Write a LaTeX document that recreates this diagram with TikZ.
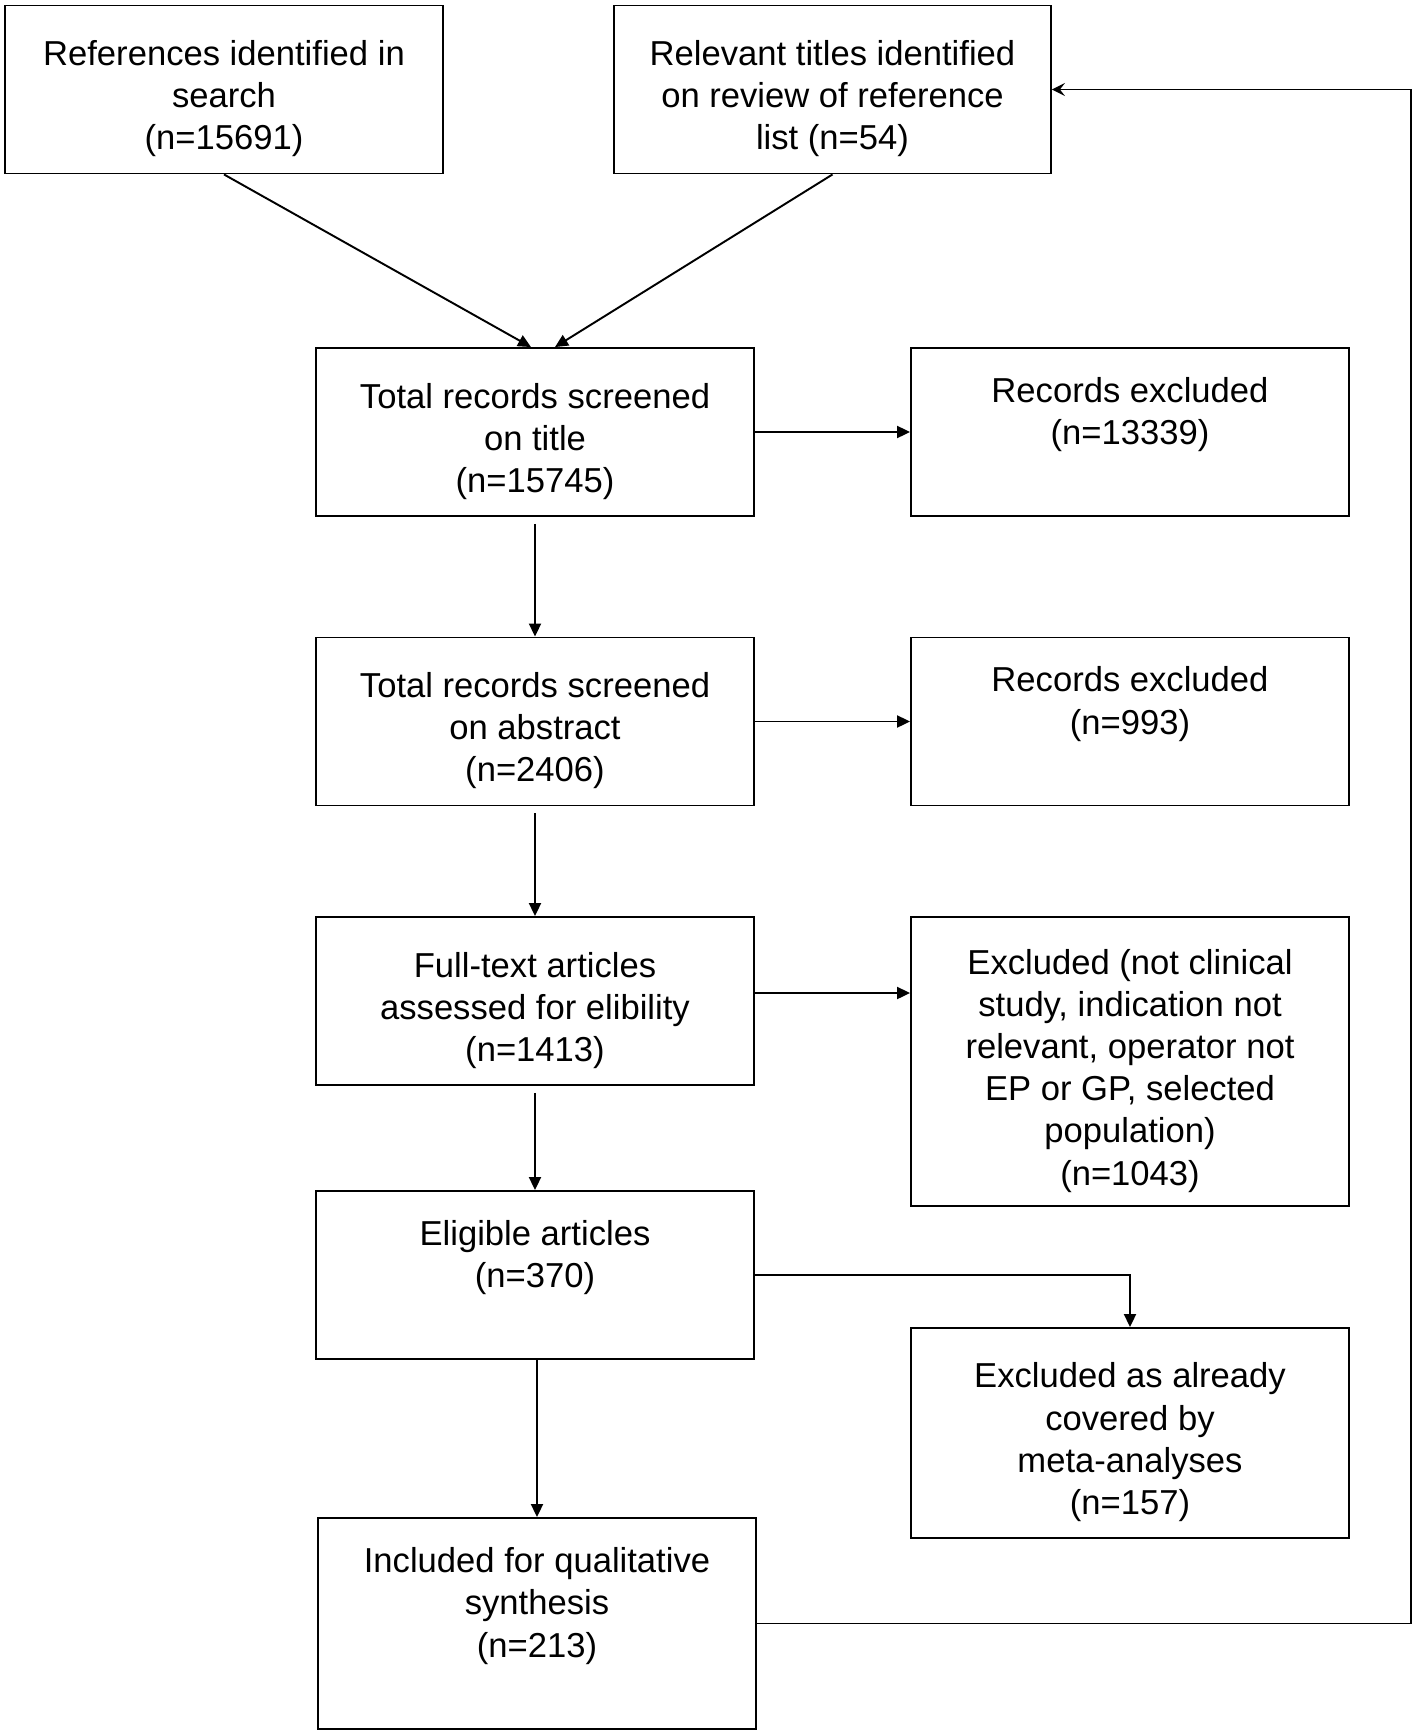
\documentclass[tikz,border=0pt]{standalone}
\usepackage{fontspec}
\setmainfont{Liberation Sans}
\usetikzlibrary{arrows.meta}
\newcommand{\lowstrut}{\rule{0pt}{0.87cm}}

\begin{document}
\begin{tikzpicture}[x=0.02cm, y=-0.02cm,
		box/.style={draw, line width=1.1pt, inner sep=0pt, align=center, minimum width=8.76cm, minimum height=3.36cm, font=\fontsize{19.7}{24}\selectfont},
		flow/.style={line width=1.1pt, -{Triangle[length=0.26cm, width=0.24cm]}},
		back/.style={line width=1.1pt, -{Stealth[length=0.26cm, width=0.26cm, inset=0.1cm]}}]
			%%%%% START %%%%%
			
			\useasboundingbox (0, 0) rectangle (1418, 1734);
			
			\node[box, minimum width=8.78cm] (refs) at (224, 89.5) {\lowstrut References identified in\\search\\(n=15691)};
			\node[box, minimum width=8.74cm] (rel) at (832.5, 89.5) {\lowstrut Relevant titles identified\\on review of reference\\list (n=54)};
			
			\node[box] (scrTitle) at (535, 432) {\lowstrut Total records screened\\on title\\(n=15745)};
			\node[box] (exTitle) at (1130, 432) {Records excluded\\(n=13339)\\~};
			
			\node[box] (scrAbs) at (535, 721.5) {\lowstrut Total records screened\\on abstract\\(n=2406)};
			\node[box] (exAbs) at (1130, 721.5) {Records excluded\\(n=993)\\~};
			
			\node[box] (fullText) at (535, 1001) {\lowstrut Full-text articles\\assessed for elibility\\(n=1413)};
			\node[box, minimum height=5.78cm] (exFull) at (1130, 1061.5) {\lowstrut Excluded (not clinical\\study, indication not\\relevant, operator not\\EP or GP, selected\\population)\\(n=1043)};
			
			\node[box] (elig) at (535, 1275) {Eligible articles\\(n=370)\\~};
			\node[box, minimum height=4.2cm] (exMeta) at (1130, 1433) {\lowstrut Excluded as already\\covered by\\meta-analyses\\(n=157)};
			
			\node[box, minimum height=4.22cm] (incl) at (537, 1623.5) {Included for qualitative\\synthesis\\(n=213)\\~};
			
			\draw[flow] (refs.south) -- ([xshift=-0.08cm]scrTitle.north);
			\draw[flow] (rel.south) -- ([xshift=0.4cm]scrTitle.north);
			
			\draw[flow] (scrTitle.east) -- (exTitle.west);
			\draw[flow, shorten <=0.14cm] (scrTitle.south) -- (scrAbs.north);
			
			\draw[flow] (scrAbs.east) -- (exAbs.west);
			\draw[flow, shorten <=0.14cm] (scrAbs.south) -- (fullText.north);
			
			\coordinate (fullOut) at ([yshift=0.16cm]fullText.east);
			\draw[flow] (fullOut) -- (fullOut -| exFull.west);
			\draw[flow, shorten <=0.14cm] (fullText.south) -- (elig.north);
			
			\draw[flow] (elig.east) -| (exMeta.north);
			\draw[flow] (incl.north |- elig.south) -- (incl.north);
			
			\coordinate (loop) at (1411, 1623.5);
			\draw[back] (incl.east) -- (loop) |- (rel.east);
			
			%%%%% END %%%%%
		\end{tikzpicture}
\end{document}
